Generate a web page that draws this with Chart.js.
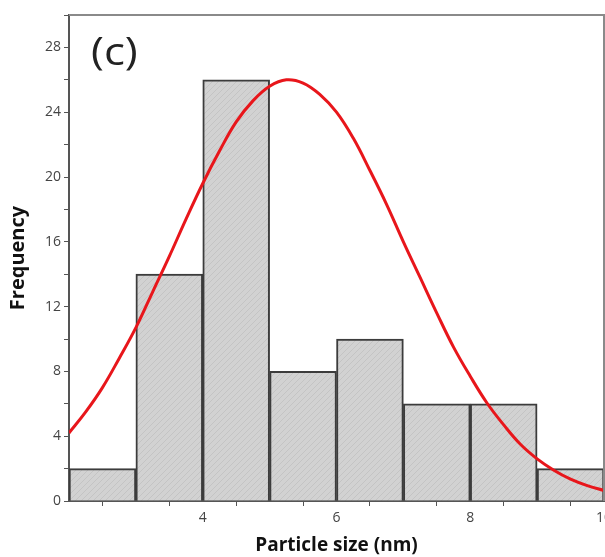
<!DOCTYPE html>
<html>
<head>
<meta charset="utf-8">
<script src="https://cdn.jsdelivr.net/npm/chart.js@4"></script>
<style>
    html, body { margin: 0; padding: 0; background: #fff; }
    #wrap { width: 605px; height: 557px; overflow: hidden; }
</style>
</head>
<body>
<div id="wrap"><canvas id="hist" width="640" height="557"></canvas></div>
<script>
//#region Data

// Histogram bins (centres, nm) and counts.
const binCenters = [2.5, 3.5, 4.5, 5.5, 6.5, 7.5, 8.5, 9.5];
const frequencies = [2, 14, 26, 8, 10, 6, 6, 2];

// Fitted curve.
const fitX = [2.0, 2.25, 2.5, 2.75, 3.0, 3.25, 3.5, 3.75, 4.0, 4.25, 4.5, 4.75, 5.0, 5.25, 5.5,
    5.75, 6.0, 6.25, 6.5, 6.75, 7.0, 7.25, 7.5, 7.75, 8.0, 8.25, 8.5, 8.75, 9.0, 9.25, 9.5, 9.75, 10.0];
const fitY = [4.2, 5.5, 7.0, 8.8, 10.7, 12.9, 15.1, 17.4, 19.6, 21.6, 23.4, 24.7, 25.6, 26.0, 25.8,
    25.1, 24.0, 22.4, 20.4, 18.3, 16.0, 13.8, 11.6, 9.5, 7.7, 6.05, 4.7, 3.5, 2.6, 1.9, 1.35, 0.95, 0.65];

// Tick labels shown on the axes.
const xTickLabels = [4, 6, 8, 10];
const yTickLabels = [0, 4, 8, 12, 16, 20, 24, 28];

//#endregion

//#region Chart

// Light grey fill with a faint diagonal hatch.
function makeHatch() {
    const c = document.createElement('canvas');
    c.width = 6; c.height = 6;
    const g = c.getContext('2d');
    g.fillStyle = '#d2d2d2';
    g.fillRect(0, 0, 6, 6);
    g.strokeStyle = '#c4c4c4';
    g.lineWidth = 1;
    g.beginPath();
    g.moveTo(0, 6); g.lineTo(6, 0);
    g.moveTo(-1, 1); g.lineTo(1, -1);
    g.moveTo(5, 7); g.lineTo(7, 5);
    g.stroke();
    return g.createPattern(c, 'repeat');
}

// Frame on top/right and the panel letter.
const framePlugin = {
    id: 'frame',
    afterDraw(chart) {
        const { ctx, chartArea } = chart;
        ctx.save();
        ctx.strokeStyle = '#8a8a8a';
        ctx.lineWidth = 2;
        ctx.beginPath();
        ctx.moveTo(chartArea.left, chartArea.top);
        ctx.lineTo(chartArea.right, chartArea.top);
        ctx.lineTo(chartArea.right, chartArea.bottom);
        ctx.stroke();
        ctx.fillStyle = '#222';
        ctx.font = '38px "Open Sans"';
        ctx.textBaseline = 'alphabetic';
        ctx.translate(91, 65);
        ctx.scale(1.15, 1); // the original letter is a bit wider
        ctx.fillText('(c)', 0, 0);
        ctx.restore();
    }
};

const ctx = document.getElementById('hist');

const config = {
    data: {
        datasets: [{
            type: 'line',
            label: 'Fit',
            data: fitX.map((x, i) => ({ x: x, y: fitY[i] })),
            borderColor: '#e8161b',
            borderWidth: 3,
            pointRadius: 0,
            tension: 0.4,
            fill: false,
            order: 0
        }, {
            type: 'bar',
            label: 'Frequency',
            data: binCenters.map((x, i) => ({ x: x, y: frequencies[i] })),
            backgroundColor: makeHatch(),
            borderColor: '#3c3c3c',
            borderWidth: 2,
            barPercentage: 1.0,
            categoryPercentage: 1.0,
            order: 1
        }]
    },
    options: {
        responsive: false,
        animation: false,
        devicePixelRatio: 1,
        layout: {
            padding: { left: 0, top: 15, right: 36, bottom: 0 }
        },
        plugins: {
            legend: { display: false },
            tooltip: { enabled: false }
        },
        scales: {
            x: {
                type: 'linear',
                min: 2,
                max: 10,
                offset: false,
                grid: { drawOnChartArea: false, drawTicks: true, tickLength: 5, color: '#555' },
                border: { color: '#555', width: 2 },
                ticks: {
                    stepSize: 1,
                    autoSkip: false,
                    maxRotation: 0,
                    padding: 4,
                    color: '#444',
                    font: { family: 'Open Sans', size: 14 },
                    callback: v => xTickLabels.includes(v) ? String(v) : ''
                },
                title: {
                    display: true,
                    text: 'Particle size (nm)',
                    color: '#111',
                    font: { family: 'Open Sans', size: 19, weight: 'bold' },
                    padding: { top: 2, bottom: 0 }
                },
                afterFit: s => { s.height = 56; }
            },
            y: {
                min: 0,
                max: 30,
                grid: { drawOnChartArea: false, drawTicks: true, tickLength: 5, color: '#555' },
                border: { color: '#555', width: 2 },
                ticks: {
                    stepSize: 2,
                    autoSkip: false,
                    padding: 3,
                    color: '#444',
                    font: { family: 'Open Sans', size: 14 },
                    callback: v => yTickLabels.includes(v) ? String(v) : ''
                },
                title: {
                    display: true,
                    text: 'Frequency',
                    color: '#111',
                    font: { family: 'Open Sans', size: 20, weight: 'bold' },
                    padding: { top: 6, bottom: 6 }
                },
                afterFit: s => { s.width = 69; }
            }
        }
    },
    plugins: [framePlugin]
};

new Chart(ctx, config);

//#endregion
</script>
</body>
</html>
